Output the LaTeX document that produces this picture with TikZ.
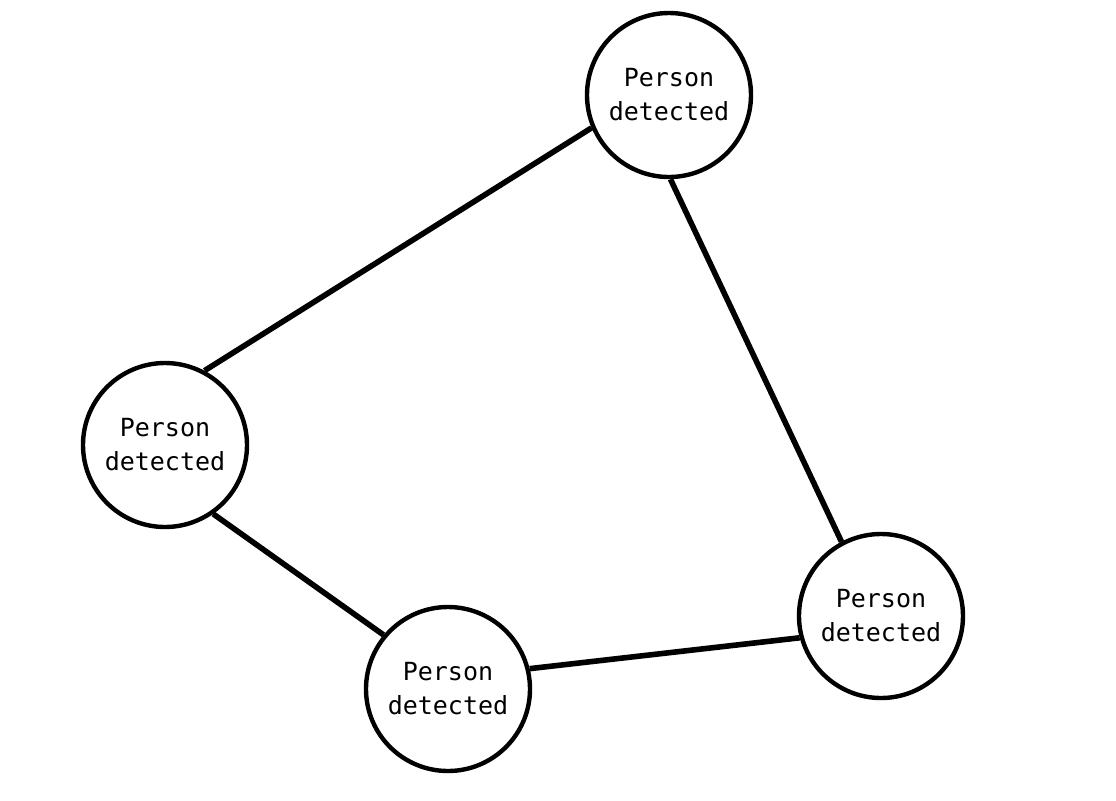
\documentclass[tikz,border=0pt]{standalone}
\usepackage{fontspec}
\setmonofont{DejaVu Sans Mono}
\begin{document}
\begin{tikzpicture}[x=0.5pt, y=-0.5pt, person/.style = {circle, draw=black, line width=2.2pt, minimum size=82pt, inner sep=0pt, align=center, font=\ttfamily\fontsize{12.5}{17}\selectfont}, link/.style = {line width=2.8pt}]
        \useasboundingbox (0, 0) rectangle (1116, 800);
        \draw (669, 95) node[person] (top) {Person\\detected};
        \draw (165, 445) node[person] (left) {Person\\detected};
        \draw (448, 689) node[person] (bottom) {Person\\detected};
        \draw (881, 616) node[person] (right) {Person\\detected};

        \draw[link] (top.203) -- (left.62);
        \draw[link] (top.271) -- (right.118);
        \draw[link] (left.305) -- (bottom.140);
        \draw[link] (bottom.14) -- (right.195);
      \end{tikzpicture}
\end{document}
